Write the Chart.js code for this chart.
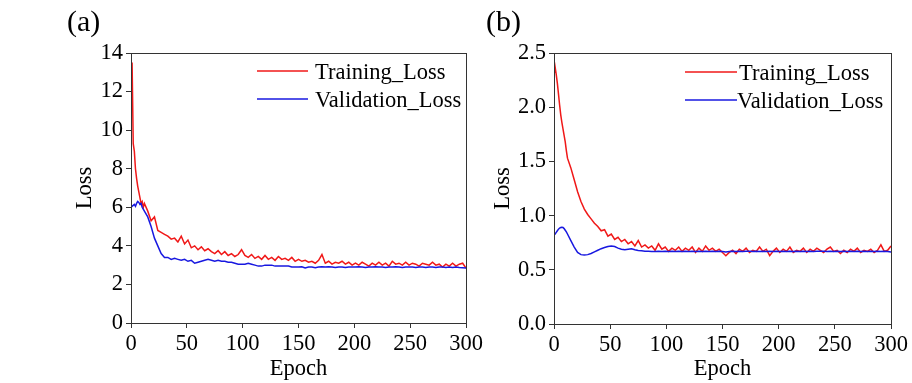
<!DOCTYPE html>
<html>
<head>
<meta charset="utf-8">
<script src="https://cdn.jsdelivr.net/npm/chart.js@4.4.0/dist/chart.umd.min.js"></script>
<style>
body{margin:0;background:#fff;}
#wrap{position:relative;width:912px;height:383px;overflow:hidden;background:#fff;}
canvas{position:absolute;top:0;}
</style>
</head>
<body>
<div id="wrap">
<canvas id="lossA" width="500" height="383" style="left:0px"></canvas>
<canvas id="lossB" width="432" height="383" style="left:480px"></canvas>
</div>
<script>
// epochs shared by both panels (denser at the start where the curves fall fast)
var epochs = [0,1,2,3,4,5,6,7,8,9,10,11,12,
  15,18,21,24,27,30,33,36,39, 42,45,48,51,54,57,60,63,66, 69,72,75,78,81,84,87,90,93,
  96,99,102,105,108,111,114,117,120, 123,126,129,132,135,138,141,144,147,
  150,153,156,159,162,165,168,171,174, 177,180,183,186,189,192,195,198,201,
  204,207,210,213,216,219,222,225,228, 231,234,237,240,243,246,249,252,255,
  258,261,264,267,270,273,276,279,282, 285,288,291,294,297,300];

var seriesNames = ["Training_Loss", "Validation_Loss"];
var panelTags = ["(a)", "(b)"];
var xTicks = [0, 50, 100, 150, 200, 250, 300];
var yTicksA = [0, 2, 4, 6, 8, 10, 12, 14];
var yTicksB = [0.0, 0.5, 1.0, 1.5, 2.0, 2.5];

// panel (a)
var trainA = [13.3, 13.4, 9.3, 8.9, 8.0, 7.5, 7.1, 6.8, 6.5, 6.2, 6.3, 6.0, 6.2,
  5.8, 5.3, 5.5, 4.8, 4.7, 4.6, 4.5, 4.35, 4.4,
  4.2, 4.5, 4.1, 4.3, 3.9, 4.0, 3.8, 3.95, 3.75,
  3.85, 3.7, 3.6, 3.75, 3.55, 3.7, 3.5, 3.6, 3.45,
  3.55, 3.8, 3.5, 3.4, 3.55, 3.35, 3.45, 3.3, 3.5,
  3.3, 3.4, 3.25, 3.45, 3.3, 3.35, 3.25, 3.4, 3.2,
  3.3, 3.2, 3.25, 3.15, 3.2, 3.1, 3.25, 3.55, 3.1,
  3.2, 3.05, 3.15, 3.1, 3.2, 3.05, 3.15, 3.0, 3.1,
  3.0, 3.15, 3.05, 2.95, 3.1, 3.0, 3.15, 3.0, 3.1,
  2.95, 3.2, 3.05, 3.1, 3.0, 3.15, 3.0, 3.1, 3.05,
  2.95, 3.1, 3.05, 3.0, 3.15, 3.0, 3.05, 2.9, 3.05,
  2.95, 3.1, 2.95, 3.05, 3.1, 2.85];
var valA = [6.1, 6.05, 6.1, 6.15, 6.05, 6.2, 6.3, 6.25, 6.15, 6.2, 6.0, 5.9, 5.8,
  5.5, 5.0, 4.4, 4.0, 3.6, 3.4, 3.4, 3.3, 3.35,
  3.3, 3.25, 3.3, 3.2, 3.25, 3.1, 3.15, 3.2, 3.25,
  3.3, 3.25, 3.2, 3.25, 3.2, 3.2, 3.15, 3.15, 3.1,
  3.05, 3.05, 3.05, 3.1, 3.05, 3.0, 2.95, 2.95, 3.0,
  3.0, 3.0, 2.95, 2.95, 2.95, 2.95, 2.95, 2.9, 2.9,
  2.9, 2.92, 2.85, 2.9, 2.9, 2.87, 2.9, 2.92, 2.9,
  2.92, 2.9, 2.88, 2.9, 2.9, 2.88, 2.9, 2.9, 2.9,
  2.92, 2.9, 2.88, 2.9, 2.9, 2.92, 2.9, 2.9, 2.88,
  2.9, 2.9, 2.92, 2.9, 2.88, 2.9, 2.9, 2.9, 2.88,
  2.9, 2.9, 2.88, 2.9, 2.9, 2.88, 2.9, 2.9, 2.88,
  2.9, 2.88, 2.9, 2.88, 2.87, 2.85];

// panel (b)
var trainB = [2.30, 2.37, 2.3, 2.22, 2.12, 2.02, 1.93, 1.86, 1.80, 1.74, 1.68, 1.60, 1.53,
  1.44, 1.33, 1.22, 1.13, 1.06, 1.01, 0.97, 0.93, 0.9,
  0.86, 0.87, 0.81, 0.83, 0.78, 0.8, 0.76, 0.78, 0.74,
  0.76, 0.72, 0.77, 0.71, 0.73, 0.7, 0.72, 0.68, 0.74,
  0.69, 0.71, 0.67, 0.7, 0.68, 0.71, 0.67, 0.7, 0.68,
  0.71, 0.66, 0.7, 0.67, 0.72, 0.68, 0.7, 0.67, 0.69,
  0.66, 0.63, 0.66, 0.68, 0.65, 0.69, 0.67, 0.7, 0.66,
  0.68, 0.67, 0.71, 0.67, 0.69, 0.63, 0.67, 0.7, 0.66,
  0.69, 0.67, 0.71, 0.66, 0.68, 0.67, 0.7, 0.66, 0.69,
  0.67, 0.7, 0.68, 0.66, 0.69, 0.71, 0.67, 0.68, 0.65,
  0.68, 0.66, 0.69, 0.67, 0.7, 0.66, 0.68, 0.67, 0.69,
  0.66, 0.68, 0.73, 0.67, 0.68, 0.72];
var valB = [0.82, 0.83, 0.845, 0.86, 0.875, 0.885, 0.89, 0.893, 0.89, 0.88, 0.865, 0.85, 0.83,
  0.77, 0.71, 0.66, 0.64, 0.637, 0.64, 0.65, 0.665, 0.68,
  0.695, 0.705, 0.715, 0.72, 0.715, 0.7, 0.69, 0.685, 0.69,
  0.695, 0.685, 0.678, 0.675, 0.672, 0.67, 0.668, 0.668, 0.67,
  0.668, 0.67, 0.668, 0.67, 0.668, 0.67, 0.668, 0.67, 0.668,
  0.67, 0.668, 0.67, 0.668, 0.67, 0.668, 0.67, 0.668, 0.67,
  0.668, 0.665, 0.668, 0.67, 0.668, 0.67, 0.668, 0.672, 0.67,
  0.668, 0.67, 0.668, 0.67, 0.668, 0.67, 0.668, 0.67, 0.668,
  0.67, 0.668, 0.67, 0.668, 0.67, 0.668, 0.67, 0.668, 0.67,
  0.668, 0.67, 0.672, 0.67, 0.668, 0.67, 0.668, 0.67, 0.668,
  0.67, 0.668, 0.67, 0.668, 0.67, 0.668, 0.67, 0.668, 0.67,
  0.668, 0.67, 0.668, 0.67, 0.668, 0.665];

var FONT = "'Liberation Serif', 'Times New Roman', serif";
var FSIZE = 22.5;
var axisColor = "#333";
var red = "#f01818";
var blue = "#1818e0";

Chart.defaults.font.family = FONT;
Chart.defaults.font.size = FSIZE;
Chart.defaults.color = "#000";

var pairs = function(vals){
    return vals.map(function(v, i){ return {x: epochs[i], y: v}; });
};

// frame around the plot, in-plot legend and the (a)/(b) tag
var boxLegend = {
    id: 'boxLegend',
    afterDraw: function(chart, args, o){
        var ctx = chart.ctx, a = chart.chartArea;
        ctx.save();
        ctx.strokeStyle = axisColor;
        ctx.lineWidth = 1;
        ctx.strokeRect(a.left + 0.5, a.top + 0.5, a.right - a.left, a.bottom - a.top);

        ctx.font = FSIZE + "px " + FONT;
        ctx.fillStyle = "#000";
        ctx.textBaseline = "alphabetic";
        ctx.textAlign = "left";
        chart.data.datasets.forEach(function(ds, i){
            var y = a.top + o.rowY[i];
            ctx.strokeStyle = ds.borderColor;
            ctx.lineWidth = ds.borderWidth;
            ctx.beginPath();
            ctx.moveTo(a.right - o.lineFrom, y);
            ctx.lineTo(a.right - o.lineTo, y);
            ctx.stroke();
            ctx.fillText(ds.label, a.right - o.textAt[i], y + 8);
        });

        ctx.font = "30px " + FONT;
        ctx.fillText(o.tag, o.tagX, o.tagY);
        ctx.restore();
    }
};

function makePanel(id, train, val, yTicks, p){
    return new Chart(document.getElementById(id), {
        type: 'line',
        data: {
            datasets: [
                {label: seriesNames[0], data: pairs(train), borderColor: red, borderWidth: 1.5, order: 1},
                {label: seriesNames[1], data: pairs(val), borderColor: blue, borderWidth: 1.5, order: 0}
            ]
        },
        options: {
            responsive: false,
            animation: false,
            devicePixelRatio: 1,
            layout: {padding: {left: 0, right: p.padRight, top: 53, bottom: 0}},
            elements: {point: {radius: 0}, line: {tension: 0}},
            plugins: {
                legend: {display: false},
                tooltip: {enabled: false},
                boxLegend: p.legend
            },
            scales: {
                x: {
                    type: 'linear', min: 0, max: 300,
                    afterBuildTicks: function(s){ s.ticks = xTicks.map(function(v){ return {value: v}; }); },
                    afterFit: function(s){ s.height = p.xHeight; s.paddingLeft = 0; s.paddingRight = 0; },
                    ticks: {padding: 3, maxRotation: 0, autoSkip: false},
                    grid: {drawOnChartArea: false, tickLength: 5, color: axisColor},
                    border: {color: axisColor},
                    title: {display: true, text: 'Epoch', padding: {top: 0, bottom: 0}}
                },
                y: {
                    min: yTicks[0], max: yTicks[yTicks.length - 1],
                    afterBuildTicks: function(s){ s.ticks = yTicks.map(function(v){ return {value: v}; }); },
                    afterFit: function(s){ s.width = p.yWidth; },
                    ticks: {padding: 3, callback: p.fmt},
                    grid: {drawOnChartArea: false, tickLength: 5, color: axisColor},
                    border: {color: axisColor},
                    title: {display: true, text: 'Loss', padding: {top: p.lossPad, bottom: 0}}
                }
            }
        },
        plugins: [boxLegend]
    });
}

var chartA = makePanel("lossA", trainA, valA, yTicksA, {
    padRight: 34, xHeight: 60, yWidth: 131, lossPad: 72,
    fmt: function(v){ return String(v); },
    legend: {tag: panelTags[0], tagX: 67, tagY: 31, rowY: [18, 46], lineFrom: 209, lineTo: 158, textAt: [151, 151]}
});

var chartB = makePanel("lossB", trainB, valB, yTicksB, {
    padRight: 21, xHeight: 59, yWidth: 74, lossPad: 9.5,
    fmt: function(v){ return Number(v).toFixed(1); },
    legend: {tag: panelTags[1], tagX: 6, tagY: 31, rowY: [19, 47], lineFrom: 206, lineTo: 154, textAt: [152, 154]}
});
</script>
</body>
</html>
